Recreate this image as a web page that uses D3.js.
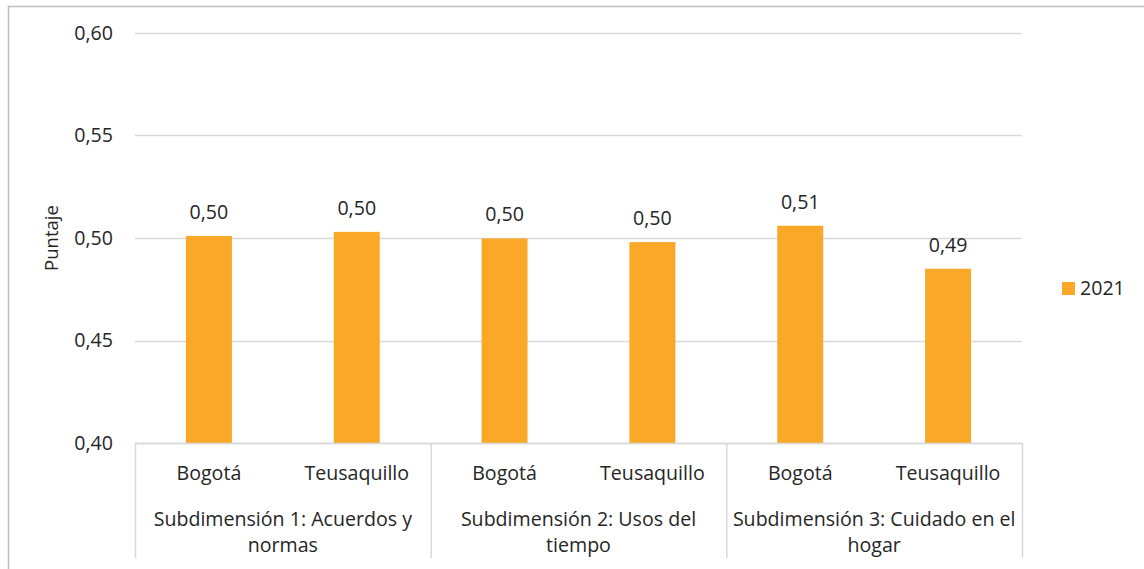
<!DOCTYPE html>
<html><head><meta charset="utf-8">
<script src="https://cdn.jsdelivr.net/npm/d3@7"></script>
<style>
html,body{margin:0;padding:0;background:#fff;}
svg{display:block;font-family:"Open Sans",sans-serif;}
</style></head>
<body><svg id="c" width="1144" height="569"></svg>
<script>
const groups = ["Subdimensión 1: Acuerdos y|normas", "Subdimensión 2: Usos del|tiempo", "Subdimensión 3: Cuidado en el|hogar"];
const places = ["Bogotá", "Teusaquillo"];
const values2021 = [0.501, 0.503, 0.4998, 0.498, 0.506, 0.485];
const valueLabels = ["0,50", "0,50", "0,50", "0,50", "0,51", "0,49"];
const yTicks = [0.40, 0.45, 0.50, 0.55, 0.60];
const seriesName = "2021";

const svg = d3.select("#c");
const L = 135, R = 1022, T = 33, B = 443;
const cats = [];
groups.forEach((g, gi) => places.forEach(p => cats.push(gi + "|" + p)));
const x = d3.scaleBand().domain(cats).range([L, R]).paddingInner(0.689).paddingOuter(0.3445);
const y = d3.scaleLinear().domain([0.40, 0.60]).range([B, T]);
const color = "#F9A828", grid = "#d9d9d9", txt = "#262626";
const fs = 19.6;

// outer border
svg.append("rect").attr("x", 8.5).attr("y", 6.5).attr("width", 1150).attr("height", 600)
  .attr("fill", "none").attr("stroke", "#bfbfbf").attr("stroke-width", 1.5);

// gridlines
svg.append("g").selectAll("line").data(yTicks).join("line")
  .attr("x1", L).attr("x2", R).attr("y1", d => Math.round(y(d)) + 0.5).attr("y2", d => Math.round(y(d)) + 0.5)
  .attr("stroke", grid).attr("stroke-width", 1.3);

// y tick labels
svg.append("g").selectAll("text").data(yTicks).join("text")
  .attr("x", 113).attr("y", d => y(d)).attr("dy", "0.35em").attr("text-anchor", "end")
  .attr("font-size", fs).attr("fill", txt).text(d => d.toFixed(2).replace(".", ","));

// y axis title
svg.append("text").attr("transform", "translate(58,238) rotate(-90)").attr("text-anchor", "middle")
  .attr("font-size", 18.5).attr("fill", txt).text("Puntaje");

// bars
svg.append("g").selectAll("rect").data(values2021).join("rect")
  .attr("x", (d, i) => x(cats[i])).attr("width", x.bandwidth())
  .attr("y", d => y(d)).attr("height", d => B - y(d)).attr("fill", color);

// value labels
svg.append("g").selectAll("text").data(values2021).join("text")
  .attr("x", (d, i) => x(cats[i]) + x.bandwidth() / 2).attr("y", d => y(d) - 17)
  .attr("text-anchor", "middle").attr("font-size", fs).attr("fill", txt)
  .text((d, i) => valueLabels[i]);

// category axis
svg.append("line").attr("x1", L).attr("x2", R).attr("y1", B + 0.5).attr("y2", B + 0.5).attr("stroke", grid).attr("stroke-width", 1.5);
const step = x.step();
const bounds = d3.range(groups.length + 1).map(i => L + i * step * places.length);
svg.append("g").selectAll("line").data(bounds).join("line")
  .attr("x1", d => d + 0.5).attr("x2", d => d + 0.5).attr("y1", B).attr("y2", 558)
  .attr("stroke", grid).attr("stroke-width", 1.5);

svg.append("g").selectAll("text").data(cats).join("text")
  .attr("x", d => x(d) + x.bandwidth() / 2).attr("y", 480)
  .attr("text-anchor", "middle").attr("font-size", fs).attr("fill", txt)
  .text(d => d.split("|")[1]);

const gl = svg.append("g").selectAll("text").data(groups).join("text")
  .attr("x", (d, i) => (bounds[i] + bounds[i + 1]) / 2).attr("y", 526)
  .attr("text-anchor", "middle").attr("font-size", fs).attr("fill", txt);
gl.selectAll("tspan").data(d => d.split("|")).join("tspan")
  .attr("x", function () { return d3.select(this.parentNode).attr("x"); })
  .attr("dy", (d, i) => i === 0 ? 0 : 26).text(d => d);

// legend
svg.append("rect").attr("x", 1062).attr("y", 282).attr("width", 13).attr("height", 13).attr("fill", color);
svg.append("text").attr("x", 1080).attr("y", 288.5).attr("dy", "0.35em").attr("font-size", fs).attr("fill", txt).text(seriesName);
</script></body></html>
